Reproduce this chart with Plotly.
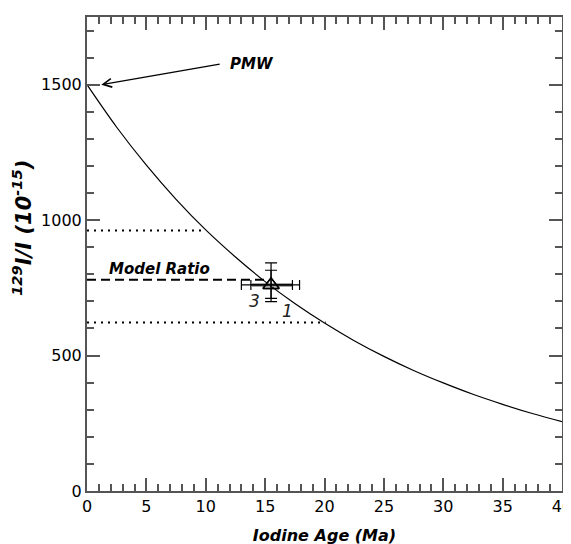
import plotly.graph_objects as go

# Decay curve (Iodine age in Ma vs 129I/I in 1e-15)
curve_age = [0, 2.5, 5, 7.5, 10, 12.5, 15, 17.5, 20, 22.5, 25, 27.5, 30, 32.5, 35, 37.5, 40]
curve_ratio = [1500, 1343, 1203, 1077, 964, 864, 773, 692, 620, 555, 497, 445, 399, 357, 320, 286, 256]

# Reference levels
upper_level_x = [0, 10.0]
upper_level_y = [962, 962]
lower_level_x = [0, 20.1]
lower_level_y = [622, 622]
model_ratio_x = [0, 14.9]
model_ratio_y = [780, 780]

# Samples
sample_labels = ["1", "3"]
sample_age = [15.5, 15.5]
sample_ratio = [761, 761]
sample_age_plus = [2.4, 1.8]
sample_age_minus = [1.7, 2.5]
sample_ratio_plus = [54, 81]
sample_ratio_minus = [50, 62]
band_x = [13.9, 17.3]
band_y = [761, 761]

FONT = "DejaVu Sans"
AXC = "#555555"

fig = go.Figure()

fig.add_trace(go.Scatter(x=curve_age, y=curve_ratio, mode="lines", line_shape="spline",
                         line=dict(color="black", width=1.2), showlegend=False, hoverinfo="skip"))
fig.add_trace(go.Scatter(x=upper_level_x, y=upper_level_y, mode="lines",
                         line=dict(color="black", width=2, dash="2px,5px"), showlegend=False))
fig.add_trace(go.Scatter(x=lower_level_x, y=lower_level_y, mode="lines",
                         line=dict(color="black", width=2, dash="2px,5px"), showlegend=False))
fig.add_trace(go.Scatter(x=model_ratio_x, y=model_ratio_y, mode="lines",
                         line=dict(color="black", width=2, dash="9px,5px"), showlegend=False))
fig.add_trace(go.Scatter(x=band_x, y=band_y, mode="lines",
                         line=dict(color="#8a8a8a", width=3.5), showlegend=False))

for i in range(len(sample_labels)):
    fig.add_trace(go.Scatter(
        x=[sample_age[i]], y=[sample_ratio[i]], mode="markers",
        marker=dict(symbol="triangle-up-open", size=14, color="black", line=dict(width=1.5)),
        error_x=dict(type="data", symmetric=False, array=[sample_age_plus[i]],
                     arrayminus=[sample_age_minus[i]], color="black", thickness=1.2, width=5),
        error_y=dict(type="data", symmetric=False, array=[sample_ratio_plus[i]],
                     arrayminus=[sample_ratio_minus[i]], color="black", thickness=1.2, width=6),
        showlegend=False, name=sample_labels[i]))

annos = [
    dict(x=14.1, y=700, text="<i>3</i>", showarrow=False, font=dict(family=FONT, size=17, color="#222")),
    dict(x=16.9, y=665, text="<i>1</i>", showarrow=False, font=dict(family=FONT, size=17, color="#222")),
    dict(x=1.7, y=821, text="<b><i>Model Ratio</i></b>", showarrow=False, xanchor="left",
         font=dict(family=FONT, size=15, color="black")),
    dict(x=11.9, y=1577, text="<b><i>PMW</i></b>", showarrow=False, xanchor="left",
         font=dict(family=FONT, size=15, color="black")),
    dict(x=1.2, y=1500, ax=11.3, ay=1577, axref="x", ayref="y", text="", showarrow=True,
         arrowhead=5, arrowsize=1.3, arrowwidth=1.3, arrowcolor="black"),
    dict(x=-0.137, y=0.555, xref="paper", yref="paper", textangle=-90, showarrow=False,
         xanchor="center", yanchor="middle",
         text="<b><i><sup>129</sup>I/I (10<sup>-15</sup>)</i></b>",
         font=dict(family=FONT, size=21, color="black")),
]

axis_common = dict(
    showline=True, linecolor=AXC, linewidth=2, mirror="allticks",
    ticks="inside", ticklen=13, tickwidth=2, tickcolor=AXC,
    showgrid=False, zeroline=False,
    tickfont=dict(family=FONT, size=16, color="black"),
)

fig.update_layout(
    width=571, height=544,
    margin=dict(l=79, r=16, t=7, b=61),
    paper_bgcolor="white", plot_bgcolor="white",
    font=dict(family=FONT, color="black"),
    annotations=annos,
    xaxis=dict(range=[0, 40], dtick=5, tick0=0,
               minor=dict(dtick=1, ticklen=7, tickwidth=1.5, tickcolor=AXC, ticks="inside"),
               title=dict(text="<b><i>Iodine Age (Ma)</i></b>", standoff=15,
                          font=dict(family=FONT, size=16, color="black")),
               **axis_common),
    yaxis=dict(range=[0, 1750], dtick=500, tick0=0,
               minor=dict(dtick=100, ticklen=7, tickwidth=1.5, tickcolor=AXC, ticks="inside"),
               **axis_common),
)

fig.write_html("out.html")
